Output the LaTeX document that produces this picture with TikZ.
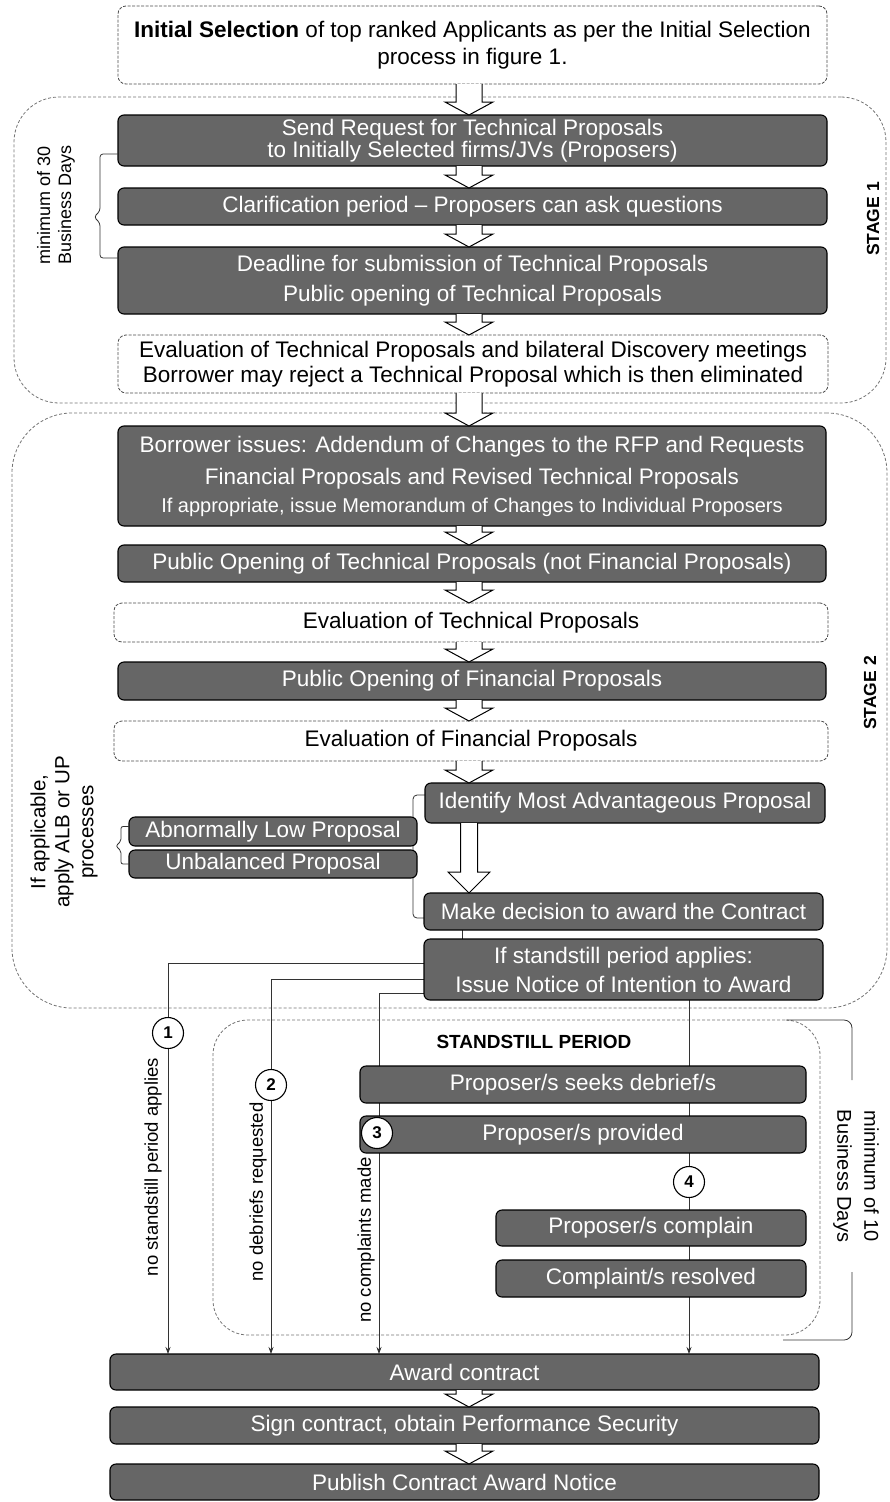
\documentclass[tikz,border=0pt]{standalone}
\usepackage{fontspec}
\setmainfont{Liberation Sans}
\usetikzlibrary{calc,arrows.meta}
\pgfdeclarelayer{bg}
\pgfsetlayers{bg,main}
\tikzset{
 dbox/.style={draw=black, line width=1.1pt, fill=black!60, text=white, rounded corners=6pt, inner sep=0pt, outer sep=0pt, align=center, font=\fontsize{22.5}{25}\selectfont},
 wbox/.style={draw=black!70, line width=0.8pt, dash pattern=on 3pt off 1.5pt, fill=white, rounded corners=8pt, inner sep=0pt, outer sep=0pt, align=center, font=\fontsize{22.5}{25}\selectfont},
 region/.style={draw=black!55, line width=0.8pt, dash pattern=on 3pt off 2pt, inner sep=0pt, outer sep=0pt},
 conn/.style={draw=black!80, line width=0.8pt},
 tip/.style={-{Stealth[length=7pt,width=5pt]}},
 blockarrow/.style={draw=black, line width=1pt, fill=white, line join=miter},
 num/.style={circle, draw=black, line width=1.1pt, fill=white, minimum size=31pt, inner sep=0pt, font=\fontsize{17}{17}\selectfont\bfseries},
 side/.style={rotate=90, align=center, font=\fontsize{18.5}{22}\selectfont},
}
\newcommand\boxat[7]{\node[#1, minimum width={(#5)-(#3)}, minimum height={(#6)-(#4)}] (#2) at ({((#3)+(#5))/2},{((#4)+(#6))/2}) {#7};}
\newcommand\barrow[2]{\filldraw[blockarrow] ($(#1)+(-13,0)$) -- ($(#2)+(-13,-13)$) -- ($(#2)+(-24,-13)$) -- (#2) -- ($(#2)+(24,-13)$) -- ($(#2)+(13,-13)$) -- ($(#1)+(13,0)$);}
\begin{document}
\begin{tikzpicture}[x=1pt,y=-1pt]
\useasboundingbox (0,0) rectangle (889,1502);
\coordinate (ax) at (469,0);
\coordinate (dx) at (462,0);
\coordinate (k1) at (168,0);
\coordinate (k2) at (271,0);
\coordinate (k3) at (379,0);
\coordinate (k4) at (689,0);

\boxat{wbox}{init}{118}{6}{827}{84}{\textbf{Initial Selection} of top ranked Applicants as per the Initial Selection\\[2pt] process in figure 1.}
\boxat{dbox}{req}{118}{115}{827}{166}{Send Request for Technical Proposals\\[-3pt] to Initially Selected firms/JVs (Proposers)}
\boxat{dbox}{clar}{118}{188}{827}{225}{Clarification period -- Proposers can ask questions}
\boxat{dbox}{dead}{118}{247}{827}{314}{Deadline for submission of Technical Proposals\\[5pt] Public opening of Technical Proposals}
\boxat{wbox}{evalT1}{118}{335}{828}{393}{Evaluation of Technical Proposals and bilateral Discovery meetings\\ Borrower may reject a Technical Proposal which is then eliminated}
\boxat{dbox}{borrow}{118}{426}{826}{526}{Borrower issues: Addendum of Changes to the RFP and Requests\\[7pt] Financial Proposals and Revised Technical Proposals\\[3pt] {\fontsize{20}{25}\selectfont If appropriate, issue Memorandum of Changes to Individual Proposers}}
\boxat{dbox}{pubT}{118}{545}{826}{582}{Public Opening of Technical Proposals (not Financial Proposals)}
\boxat{wbox}{evalT}{114}{603}{828}{642}{Evaluation of Technical Proposals}
\boxat{dbox}{pubF}{118}{662}{826}{700}{Public Opening of Financial Proposals}
\boxat{wbox}{evalF}{114}{721}{828}{761}{Evaluation of Financial Proposals}
\boxat{dbox}{ident}{425}{783}{825}{823}{Identify Most Advantageous Proposal}
\boxat{dbox}{alp}{129}{817}{417}{846}{Abnormally Low Proposal}
\boxat{dbox}{unb}{129}{850}{417}{878}{Unbalanced Proposal}
\boxat{dbox}{decide}{424}{893}{823}{930}{Make decision to award the Contract}
\boxat{dbox}{notice}{424}{939}{823}{1000}{If standstill period applies:\\[4pt] Issue Notice of Intention to Award}
\boxat{dbox}{seek}{360}{1066}{806}{1103}{Proposer/s seeks debrief/s}
\boxat{dbox}{prov}{360}{1116}{806}{1153}{Proposer/s provided}
\boxat{dbox}{compl}{496}{1210}{806}{1246}{Proposer/s complain}
\boxat{dbox}{resol}{496}{1260}{806}{1297}{Complaint/s resolved}
\boxat{dbox}{award}{110}{1354}{819}{1390}{Award contract}
\boxat{dbox}{sign}{110}{1407}{819}{1444}{Sign contract, obtain Performance Security}
\boxat{dbox}{publish}{110}{1464}{819}{1500}{Publish Contract Award Notice}

\begin{pgfonlayer}{bg}
\node[region, minimum width=872pt, minimum height=306pt, rounded corners=45pt] (stage1) at (450,250) {};
\node[region, minimum width=875pt, minimum height=595pt, rounded corners=60pt] (stage2) at (449.5,710.5) {};
\node[region, minimum width=607pt, minimum height=315pt, rounded corners=35pt] (ss) at (516.5,1177.5) {};
\draw[conn] (decide.south -| dx) -- (notice.north -| dx);
\draw[conn,tip] ([yshift=6.5pt]notice.west) -| (award.north -| k1);
\draw[conn,tip] ([yshift=-9.5pt]notice.west) -| (award.north -| k2);
\draw[conn,tip] ([yshift=-23.5pt]notice.west) -| (award.north -| k3);
\draw[conn,tip] (notice.south -| k4) -- (award.north -| k4);
\draw[conn, rounded corners=4pt] ([yshift=8pt]ident.west) -- ++(-12,0) |- ([yshift=-6.5pt]decide.west);
\end{pgfonlayer}

% block arrows
\barrow{init.south -| ax}{req.north -| ax}
\barrow{req.south -| ax}{clar.north -| ax}
\barrow{clar.south -| ax}{dead.north -| ax}
\barrow{dead.south -| ax}{evalT1.north -| ax}
\barrow{evalT1.south -| ax}{borrow.north -| ax}
\barrow{borrow.south -| ax}{pubT.north -| ax}
\barrow{pubT.south -| ax}{evalT.north -| ax}
\barrow{evalT.south -| ax}{pubF.north -| ax}
\barrow{pubF.south -| ax}{evalF.north -| ax}
\barrow{evalF.south -| ax}{ident.north -| ax}
\barrow{award.south -| ax}{sign.north -| ax}
\barrow{sign.south -| ax}{publish.north -| ax}
\filldraw[blockarrow] ($(ident.south -| ax)+(-8.5,0)$) -- ($(decide.north -| ax)+(-8.5,-21)$) -- ($(decide.north -| ax)+(-21,-21)$) -- (decide.north -| ax) -- ($(decide.north -| ax)+(21,-21)$) -- ($(decide.north -| ax)+(8.5,-21)$) -- ($(ident.south -| ax)+(8.5,0)$);

% braces
\draw[conn, rounded corners=3pt] ([yshift=-13.5pt]req.west) -- ++(-18,0) -- (100,211) -- (94,217) -- (100,223) |- ([yshift=22.5pt]dead.west);
\draw[conn, rounded corners=2pt] ([yshift=5pt]alp.west) -- ++(-8,0) -- (121,841) -- (116,846) -- (121,851) |- (unb.west);
\draw[conn, rounded corners=8pt] ([xshift=-33pt]ss.north east) -- (852,1020) -- (852,1080);
\draw[conn, rounded corners=8pt] (852,1272) -- (852,1340) -- (783,1340);

% labels
\node[side, font=\fontsize{18}{21}\selectfont] (min30) at (56,205) {minimum of 30\\Business Days};
\node[side, font=\fontsize{20.5}{24}\selectfont] (alb) at (64,832) {If applicable,\\apply ALB or UP\\processes};
\node[rotate=90, font=\fontsize{17.5}{18}\selectfont\bfseries] (st1) at (873,219) {STAGE 1};
\node[rotate=90, font=\fontsize{17.5}{18}\selectfont\bfseries] (st2) at (870,693) {STAGE 2};
\node[rotate=-90, align=center, font=\fontsize{20}{27}\selectfont] (min10) at (856,1176) {minimum of 10\\Business Days};
\node[font=\fontsize{19}{19}\selectfont\bfseries] (sstitle) at (534,1042) {STANDSTILL PERIOD};
\node[side] (lab1) at (153,1167) {no standstill period applies};
\node[side] (lab2) at (258,1192) {no debriefs requested};
\node[side] (lab3) at (366,1240) {no complaints made};

% numbered circles
\node[num] (n1) at (168,1033) {1};
\node[num] (n2) at (271,1085) {2};
\node[num] (n3) at (377,1133) {3};
\node[num] (n4) at (689,1182) {4};
\end{tikzpicture}
\end{document}
